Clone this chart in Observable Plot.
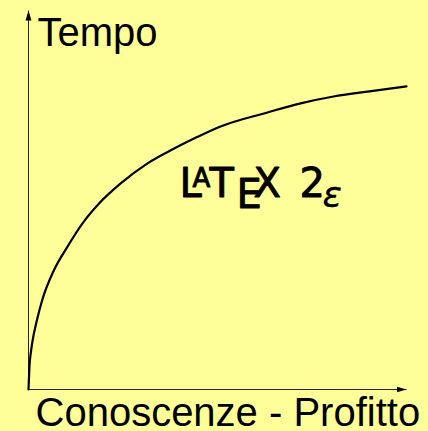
<!DOCTYPE html>
<html>
<head>
<meta charset="utf-8">
<script src="https://cdn.jsdelivr.net/npm/d3@7"></script>
<script src="https://cdn.jsdelivr.net/npm/@observablehq/plot@0.6"></script>
<style>
  html, body { margin: 0; padding: 0; background: #ffff99; }
  #chart svg { display: block; }
</style>
</head>
<body>
<div id="chart"></div>
<script>
// ---- data ----
const curveX = [0, 0.25, 0.7, 1.0, 2.3, 3.6, 6.7, 10.2, 14.2, 18.6, 24.3, 31.4, 38.4, 44.6, 50.8, 63.2, 72.0, 80.7, 89.7, 100];
const curveY = [0, 6.0, 10.3, 12.4, 18.6, 23.5, 31.4, 37.5, 43.7, 49.0, 54.3, 59.6, 63.5, 66.6, 69.4, 73.1, 75.5, 77.3, 78.6, 80.0];
const xDomain = [0, 100];
const yDomain = [0, 100];
const yLabel = "Tempo";
const xLabel = "Conoscenze - Profitto";
const logoGlyphs = ["L", "A", "T", "E", "X", "2", "ε"];

const FONT = "'Liberation Sans', Arial, sans-serif";
const LOGO_FONT = "'DejaVu Sans', sans-serif";
const curve = curveX.map((x, i) => ({x, y: curveY[i]}));

function filledArrow(color, context) {
  const doc = (context && context.document) || document;
  const ns = "http://www.w3.org/2000/svg";
  const m = doc.createElementNS(ns, "marker");
  m.setAttribute("viewBox", "-10 -4 10 8");
  m.setAttribute("markerWidth", 10);
  m.setAttribute("markerHeight", 8);
  m.setAttribute("markerUnits", "userSpaceOnUse");
  m.setAttribute("orient", "auto");
  m.setAttribute("refX", 0);
  m.setAttribute("refY", 0);
  const p = doc.createElementNS(ns, "path");
  p.setAttribute("d", "M-10,-3L0,0L-10,3Z");
  p.setAttribute("fill", "black");
  p.setAttribute("stroke", "none");
  m.appendChild(p);
  return m;
}

const axes = [
  {x1: xDomain[0], y1: yDomain[0], x2: xDomain[1], y2: yDomain[0]},
  {x1: xDomain[0], y1: yDomain[0], x2: xDomain[0], y2: yDomain[1]}
];

const chart = Plot.plot({
  width: 428,
  height: 431,
  marginLeft: 28,
  marginRight: 22,
  marginTop: 10,
  marginBottom: 42,
  style: {background: "#ffff99", overflow: "visible"},
  x: {domain: xDomain, axis: null},
  y: {domain: yDomain, axis: null},
  marks: [
    Plot.link(axes, {x1: "x1", y1: "y1", x2: "x2", y2: "y2", stroke: "#222", strokeWidth: 1, markerEnd: filledArrow}),
    Plot.line(curve, {x: "x", y: "y", stroke: "black", strokeWidth: 2.2, curve: "monotone-x"}),
    Plot.text([yLabel], {x: () => xDomain[0], y: () => yDomain[1], text: d => d, textAnchor: "start", lineAnchor: "bottom",
      dx: 9, dy: 35, fontSize: 40, fontFamily: FONT, fill: "black"}),
    Plot.text([xLabel], {x: () => xDomain[0], y: () => yDomain[0], text: d => d, textAnchor: "start", lineAnchor: "bottom",
      dx: 7, dy: 36, fontSize: 40, fontFamily: FONT, fill: "black"})
  ]
});

document.getElementById("chart").appendChild(chart);

// LaTeX 2ε logo, placed through the plot's own scales
const sx = chart.scale("x"), sy = chart.scale("y");
const lx = sx.apply(41), ly = sy.apply(50.6);
const glyphStyle = [
  {dx: -3.5, dy: 0, size: 40},
  {dx: 9.5, dy: -10, size: 26},
  {dx: 26.5, dy: 0, size: 40},
  {dx: 53.5, dy: 11, size: 40},
  {dx: 70.5, dy: 0, size: 40},
  {dx: 116.5, dy: 0, size: 40},
  {dx: 139.5, dy: 9.5, size: 36, italic: true}
];
const logo = d3.select(chart).append("text")
  .attr("font-family", LOGO_FONT)
  .attr("font-weight", "normal")
  .attr("text-anchor", "start")
  .attr("fill", "black")
  .attr("stroke", "black")
  .attr("stroke-width", 0.9)
  .attr("stroke-linejoin", "round");
logoGlyphs.forEach((g, i) => {
  const s = glyphStyle[i];
  logo.append("tspan")
    .attr("x", lx + s.dx)
    .attr("y", ly + s.dy)
    .attr("font-size", s.size)
    .attr("font-style", s.italic ? "italic" : null)
    .attr("stroke-width", s.italic ? 0.3 : null)
    .text(g);
});
</script>
</body>
</html>
